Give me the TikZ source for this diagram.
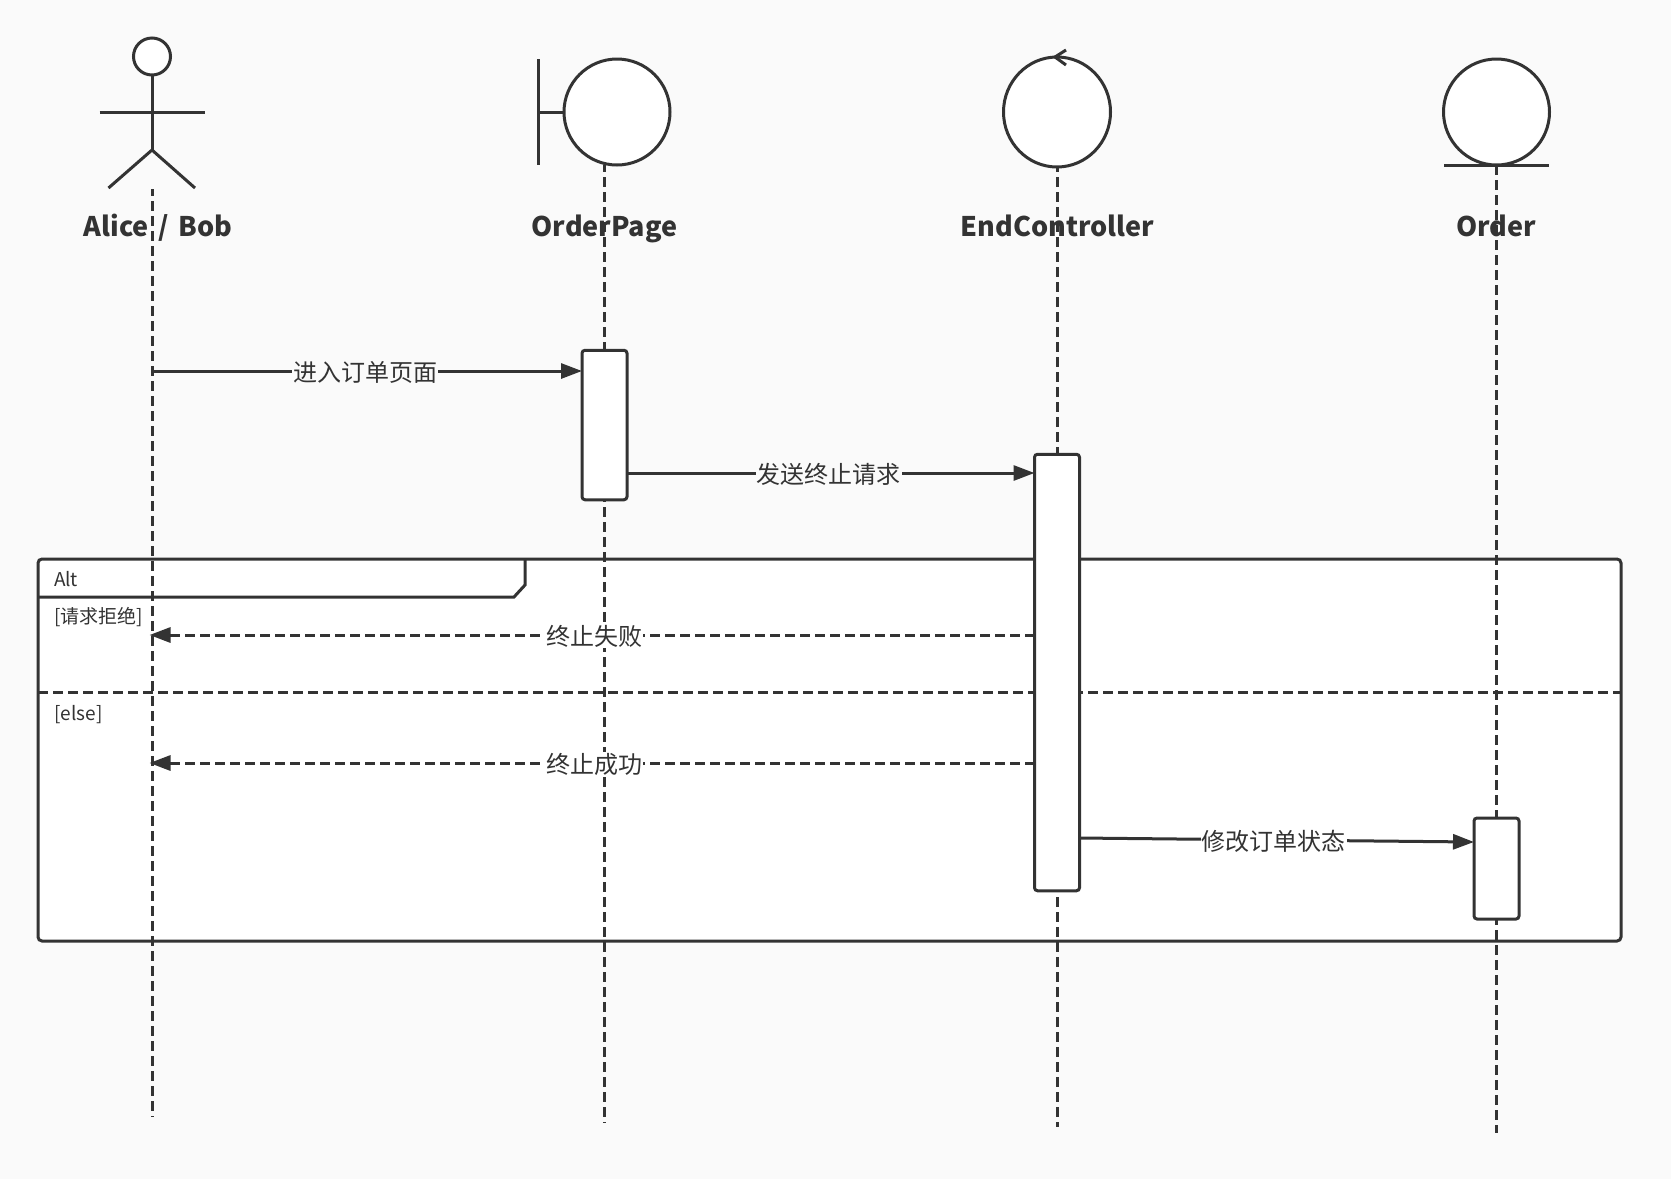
\documentclass[tikz,border=0pt]{standalone}
\usepackage{fontspec}
\setmainfont{Noto Sans CJK SC}
\usetikzlibrary{arrows.meta,shapes.geometric}
\definecolor{ink}{HTML}{333333}
\definecolor{paper}{HTML}{FAFAFA}
\begin{document}
\begin{tikzpicture}[
    x=1pt, y=-1pt,
    line width=3pt, draw=ink, text=ink,
    title/.style={font=\fontsize{27}{32}\selectfont\bfseries, inner sep=0pt, anchor=base},
    sym/.style={ellipse, draw, fill=white, minimum width=106pt, minimum height=106pt, inner sep=0pt, outer sep=0pt},
    act/.style={draw, fill=white, rounded corners=3pt, minimum width=45pt, inner sep=0pt, outer sep=0pt},
    life/.style={dash pattern=on 10pt off 5pt},
    arr/.style={-{Triangle[length=21pt,width=15pt]}},
    lbl/.style={font=\fontsize{24}{28}\selectfont, fill=#1, inner sep=1pt, yshift=-1pt},
    lbl/.default=paper,
    guard/.style={font=\fontsize{19}{23}\selectfont, anchor=west, inner sep=0pt},
]
\path[use as bounding box, fill=paper] (0,0) rectangle (1671,1179);

% alt frame
\node[draw, fill=white, rounded corners=4pt, minimum width=1583pt, minimum height=382pt,
      inner sep=0pt, outer sep=0pt] (frame) at (829.5,750) {};
\coordinate (tabA) at (525,559);
\coordinate (tabB) at (525,585);
\coordinate (tabC) at (514,597);
\coordinate (tabD) at (38,597);
\draw (tabA) -- (tabB) -- (tabC) -- (tabD);
\draw[life] (frame.west |- 0,692.5) -- (frame.east |- 0,692.5);
\node[guard] (altT)  at (52.5,579) {Alt};
\node[guard] (rejT)  at (53,617) {[请求拒绝]};
\node[guard] (elseT) at (53,714.5) {[else]};

% names
\node[title] (aliceT) at (158,236.5) {Alice\hspace{3.5pt} / \hspace{3.5pt}Bob};
\node[title] (pageT)  at (604.5,236.5) {OrderPage};
\node[title] (ctrlT)  at (1057.5,236.5) {EndController};
\node[title] (ordT)   at (1496,236.5) {Order};

% actor
\node[circle, draw, fill=white, minimum size=37pt, inner sep=0pt, outer sep=0pt] (head) at (152,56.5) {};
\coordinate (hip) at (152,150);
\coordinate (alice) at (152,189);
\coordinate (tipL) at (149.5,0);
\draw (head.south) -- (hip);
\draw (99.5,112) -- (204.5,112);
\draw (108.5,188) -- (hip) -- (195,188);

% boundary, control, entity
\node[sym] (page) at (617,112) {};
\coordinate (pageL) at (604,165);
\draw (538,59) -- (538,165);
\draw (538,112) -- (page.west);
\node[sym, minimum width=107pt, minimum height=110pt] (ctrl) at (1057,112) {};
\draw (1066,50) -- (1055,57) -- (1066,65);
\node[sym] (ord) at (1496.5,112) {};
\draw (1444,165) -- (1549,165);

\foreach \n/\e/\p in {alice/1117/3, pageL/1123/3, ctrl.south/1127/5, ord.south/1133/0} {
    \draw[life, dash phase=\p pt] (\n) -- (\n |- 0,\e);
}

% activations
\node[act, minimum height=149.5pt] (pageA) at (604.5,425) {};
\node[act, minimum height=436.5pt] (ctrlA) at (1057,672.5) {};
\node[act, minimum height=101pt]   (ordA)  at (1496.5,868.5) {};

% messages
\coordinate (m1) at (152,371);
\coordinate (m2) at (pageA.east |- 0,473);
\coordinate (m3) at (ctrlA.west |- 0,635);
\coordinate (m4) at (ctrlA.west |- 0,763);
\coordinate (m5) at (ctrlA.east |- 0,838);
\coordinate (m5e) at (ordA.west |- 0,842);
\draw[arr] (m1) -- node[lbl, xshift=-2pt] (m1T) {进入订单页面} (m1 -| pageA.west);
\draw[arr] (m2) -- node[lbl, xshift=-2pt] (m2T) {发送终止请求} (m2 -| ctrlA.west);
\draw[arr,life] (m3) -- node[lbl=white, xshift=2pt] (m3T) {终止失败} (m3 -| tipL);
\draw[arr,life] (m4) -- node[lbl=white, xshift=2pt] (m4T) {终止成功} (m4 -| tipL);
\draw[arr] (m5) -- node[lbl=white, xshift=-3pt] (m5T) {修改订单状态} (m5e);
\end{tikzpicture}
\end{document}
